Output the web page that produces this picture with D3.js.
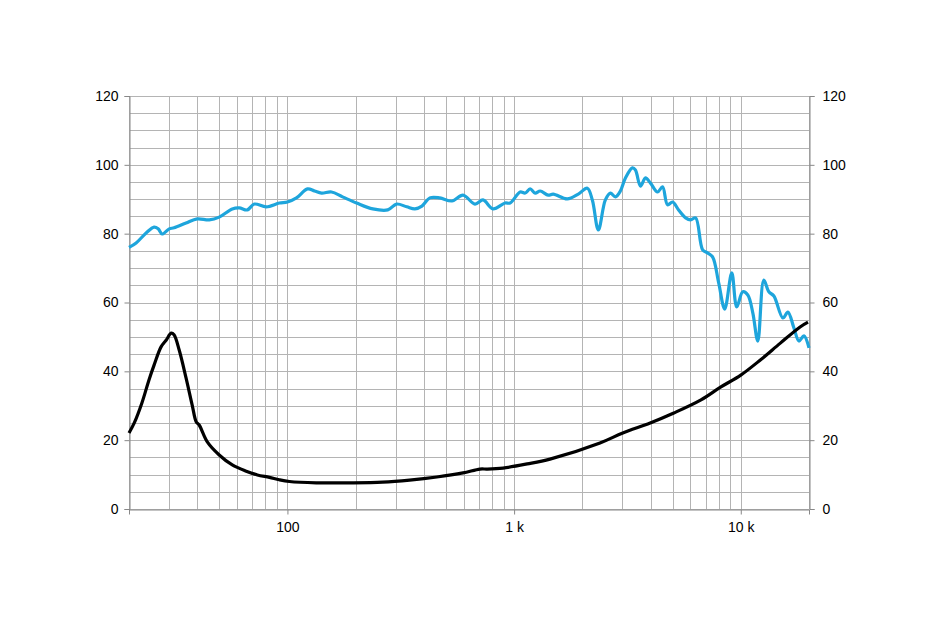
<!DOCTYPE html>
<html>
<head>
<meta charset="utf-8">
<script src="https://cdn.jsdelivr.net/npm/d3@7"></script>
<style>
  body { margin: 0; background: #fff; }
  text { font-family: "Liberation Sans", Arial, sans-serif; font-size: 14px; fill: #000; }
</style>
</head>
<body>
<div id="vis"></div>
<script>
// frequency response (SPL, dB)
var splFreq = [20, 21.5, 23.8, 25.8, 26.9, 28, 30.1, 31.6, 35.7, 40, 45.2, 50, 57.1, 61.3, 66.5, 71.4, 80.7, 92.2, 100,
  109.6, 122.6, 131.7, 141.4, 156.5, 175, 202, 238, 277, 303, 336, 365, 392, 425, 470, 532, 595, 672, 729, 807,
  912, 960, 1063, 1119, 1177, 1239, 1303, 1414, 1488, 1716, 1920, 2104, 2214, 2353, 2527, 2659, 2799, 2944, 3099,
  3328, 3430, 3610, 3798, 3998, 4293, 4518, 4753, 5002, 5318, 5710, 6009, 6323, 6789, 7145, 7518, 7991, 8495,
  9125, 9600, 10205, 10740, 11300, 11890, 12640, 13300, 14000, 15340, 16140, 17160, 18060, 19000, 20000];
var splVal = [76.0, 77.3, 80.2, 81.9, 81.4, 79.9, 81.4, 81.7, 83.1, 84.3, 84.0, 84.8, 87.2, 87.5, 86.9, 88.6, 87.8, 88.9, 89.2,
  90.4, 93.0, 92.4, 91.8, 92.1, 90.7, 88.9, 87.2, 86.9, 88.6, 87.8, 87.2, 88.0, 90.4, 90.4, 89.5, 91.2, 88.6, 89.8, 87.2,
  88.9, 88.9, 92.1, 91.8, 93.0, 91.8, 92.4, 91.2, 91.5, 90.1, 91.5, 93.2, 89.8, 81.1, 89.8, 91.8, 90.7, 92.4, 96.2,
  99.1, 98.5, 93.8, 96.2, 94.7, 92.1, 93.6, 88.4, 89.2, 86.9, 84.6, 84.0, 84.6, 75.3, 74.4, 73.2, 65.7, 58.1,
  68.6, 58.7, 63.1, 62.2, 57.0, 48.8, 66.5, 63.1, 61.9, 55.5, 57.2, 52.6, 48.8, 50.3, 46.8];

// impedance (ohm)
var impFreq = [20, 21.1, 22.8, 24.5, 25.8, 27.7, 29.2, 30.7, 31.6, 33.3, 35.7, 38, 39.6, 40.8, 44.3, 50, 57.1, 65.8,
  73.7, 83.3, 92, 102, 134, 188, 263, 346, 456, 595, 707, 761, 894, 1143, 1440, 2393, 3016, 3985, 5066, 6676, 8143,
  10000, 12200, 14950, 18270, 19800];
var impVal = [22.1, 25.0, 30.8, 37.5, 41.8, 47.1, 49.1, 51.1, 50.6, 46.2, 38.1, 30.2, 25.3, 24.4, 19.5, 15.7, 12.8, 11.0,
  9.9, 9.2, 8.5, 8.0, 7.6, 7.6, 7.8, 8.4, 9.3, 10.5, 11.6, 11.6, 11.9, 13.1, 14.5, 19.2, 22.1, 25.0, 27.9, 31.7, 35.4,
  38.9, 43.3, 48.2, 52.9, 54.3];

var yTicks = [0, 20, 40, 60, 80, 100, 120];
var xTicks = [100, 1000, 10000];
var xTickLabels = ["100", "1 k", "10 k"];

var W = 936, H = 619;
var margin = {top: 96, right: 127, bottom: 110, left: 129},
    width = W - margin.left - margin.right,
    height = H - margin.top - margin.bottom;

var svg = d3.select("#vis").append("svg")
  .attr("width", W)
  .attr("height", H)
  .append("g")
    .attr("transform", "translate(" + margin.left + "," + margin.top + ")");

var x = d3.scaleLog().domain([20, 20000]).range([0, width]);
var y = d3.scaleLinear().domain([0, 120]).range([height, 0]);

// grid: every 5 units horizontally, 1-2-3..9 per decade vertically
var hLines = d3.range(0, 125, 5);
var vLines = [];
[10, 100, 1000, 10000].forEach(function(dec){
  for (var k = 1; k <= 9; k++) {
    var f = dec * k;
    if (f >= 20 && f <= 20000) vLines.push(f);
  }
});

svg.append("g").selectAll("line.h").data(hLines).enter().append("line")
  .attr("x1", 0).attr("x2", width)
  .attr("y1", function(d){ return Math.round(y(d)) + 0.5; })
  .attr("y2", function(d){ return Math.round(y(d)) + 0.5; })
  .attr("stroke", "#b4b4b4").attr("stroke-width", 1);

svg.append("g").selectAll("line.v").data(vLines).enter().append("line")
  .attr("y1", 0).attr("y2", height)
  .attr("x1", function(d){ return Math.round(x(d)) + 0.5; })
  .attr("x2", function(d){ return Math.round(x(d)) + 0.5; })
  .attr("stroke", "#b4b4b4").attr("stroke-width", 1);

// axes
var yAxisL = d3.axisLeft(y).tickValues(yTicks).tickSize(5).tickPadding(6);
var yAxisR = d3.axisRight(y).tickValues(yTicks).tickSize(5).tickPadding(8);
var xAxis = d3.axisBottom(x).tickValues(xTicks).tickSize(5).tickPadding(8)
  .tickFormat(function(d, i){ return xTickLabels[i]; });

function styleAxis(g) {
  g.selectAll("path").attr("stroke", "#888");
  g.selectAll("line").attr("stroke", "#888");
  g.selectAll("text").style("font-family", "'Liberation Sans', Arial, sans-serif").style("font-size", "14px").attr("fill", "#000");
}

svg.append("g").attr("transform", "translate(0.5,0)").call(yAxisL).call(styleAxis);
svg.append("g").attr("transform", "translate(" + (width + 0.5) + ",0)").call(yAxisR).call(styleAxis);
svg.append("g").attr("transform", "translate(0," + (height + 0.5) + ")").call(xAxis).call(styleAxis);

// curves
var line = d3.line()
  .x(function(d){ return x(d[0]); })
  .y(function(d){ return y(d[1]); })
  .curve(d3.curveCatmullRom.alpha(0.5));

var spl = splFreq.map(function(f, i){ return [f, splVal[i]]; });
var imp = impFreq.map(function(f, i){ return [f, impVal[i]]; });

svg.append("path").datum(spl)
  .attr("d", line)
  .attr("fill", "none")
  .attr("stroke", "#1ea5dc")
  .attr("stroke-width", 3.2)
  .attr("stroke-linejoin", "round");

svg.append("path").datum(imp)
  .attr("d", line)
  .attr("fill", "none")
  .attr("stroke", "#000")
  .attr("stroke-width", 3.2)
  .attr("stroke-linejoin", "round");
</script>
</body>
</html>
